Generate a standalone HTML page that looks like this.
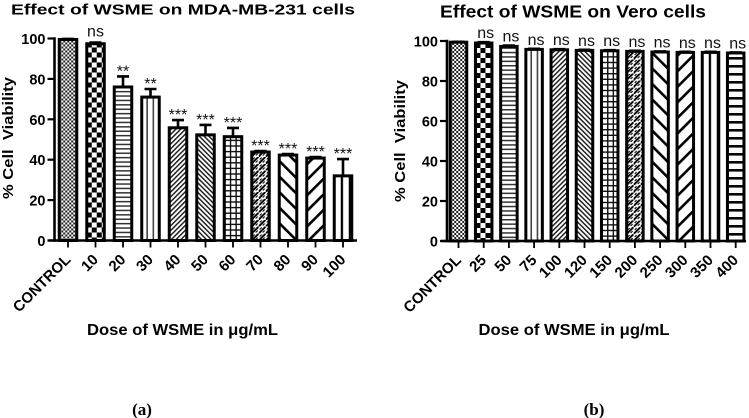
<!DOCTYPE html>
<html lang="en">
<head>
<meta charset="utf-8">
<title>Effect of WSME on cell viability</title>
<style>
html,body{margin:0;padding:0;background:#fff}
svg{display:block;font-family:"Liberation Sans",Arial,sans-serif}
</style>
</head>
<body>
<svg id="figure" xmlns="http://www.w3.org/2000/svg" width="749" height="418" viewBox="0 0 749 418">
<defs>
<pattern id="p0" patternUnits="userSpaceOnUse" width="4" height="4"><rect width="4" height="4" fill="#fff"/><rect width="2" height="2" fill="#222"/><rect x="2" y="2" width="2" height="2" fill="#222"/></pattern>
<pattern id="p1" patternUnits="userSpaceOnUse" width="10" height="10" y="2"><rect width="10" height="10" fill="#fff"/><rect width="5" height="5" fill="#000"/><rect x="5" y="5" width="5" height="5" fill="#000"/></pattern>
<pattern id="p2" patternUnits="userSpaceOnUse" width="4.4" height="4.4"><rect width="4.4" height="4.4" fill="#fff"/><rect width="4.4" height="1.5" fill="#333"/></pattern>
<pattern id="p3" patternUnits="userSpaceOnUse" width="6.2" height="6.2"><rect width="6.2" height="6.2" fill="#fff"/><rect x="4.6" width="1.6" height="6.2" fill="#444"/></pattern>
<pattern id="p4" patternUnits="userSpaceOnUse" width="3.4" height="3.4" patternTransform="rotate(45)"><rect width="3.4" height="3.4" fill="#fff"/><rect width="1.5" height="3.4" fill="#222"/></pattern>
<pattern id="p5" patternUnits="userSpaceOnUse" width="3.4" height="3.4" patternTransform="rotate(-45)"><rect width="3.4" height="3.4" fill="#fff"/><rect width="1.5" height="3.4" fill="#222"/></pattern>
<pattern id="p6" patternUnits="userSpaceOnUse" width="5.6" height="5.6"><rect width="5.6" height="5.6" fill="#fff"/><rect width="1.4" height="5.6" fill="#111"/><rect width="5.6" height="1.4" fill="#111"/></pattern>
<pattern id="p7" patternUnits="userSpaceOnUse" width="7" height="7"><rect width="7" height="7" fill="#fff"/><path d="M-1 8 L8 -1" stroke="#000" stroke-width="1.9"/><path d="M1 3 L3 1 M4 6 L6 4" stroke="#000" stroke-width="1.1"/></pattern>
<pattern id="p8" patternUnits="userSpaceOnUse" width="11" height="11" patternTransform="rotate(-45)"><rect width="11" height="11" fill="#fff"/><rect width="2.6" height="11" fill="#000"/></pattern>
<pattern id="p9" patternUnits="userSpaceOnUse" width="11" height="11" patternTransform="rotate(45)"><rect width="11" height="11" fill="#fff"/><rect width="2.6" height="11" fill="#000"/></pattern>
<pattern id="p10" patternUnits="userSpaceOnUse" width="8" height="8"><rect width="8" height="8" fill="#fff"/><rect x="6.5" width="1.5" height="8" fill="#000"/><rect width="0.8" height="8" fill="#000"/></pattern>
<pattern id="p11" patternUnits="userSpaceOnUse" width="8" height="8"><rect width="8" height="8" fill="#fff"/><rect width="8" height="2.6" fill="#000"/></pattern>
</defs>
</svg>
<script>
const categoriesA = ['CONTROL','10','20','30','40','50','60','70','80','90','100'];
const meansA = [99.5,97.4,76,71,55.8,52.3,51.4,43.8,42.3,40.8,32];
const errorsA = [0.3,0.6,5.2,4,3.8,4.9,4.3,0.5,0.5,0.5,8.3];
const sigA = ['','ns','**','**','***','***','***','***','***','***','***'];

const categoriesB = ['CONTROL','25','50','75','100','120','150','200','250','300','350','400'];
const meansB = [99.4,99,97.3,95.8,95.6,95.3,95.1,94.8,94.5,94.3,94.3,94];
const errorsB = [0.2,0.4,0.4,0.3,0.3,0.3,0.3,0.3,0.3,0.3,0.3,0.3];
const sigB = ['','ns','ns','ns','ns','ns','ns','ns','ns','ns','ns','ns'];

const yTicks = [0,20,40,60,80,100];

const NS = 'http://www.w3.org/2000/svg';
const svg = document.getElementById('figure');

function make(parent, tag, attrs, text) {
  const el = document.createElementNS(NS, tag);
  for (const k in attrs) el.setAttribute(k, attrs[k]);
  if (text !== undefined) el.textContent = text;
  parent.appendChild(el);
  return el;
}

function drawChart(cfg) {
  const yScale = v => cfg.y0 - (cfg.y0 - cfg.y100) * v / 100;
  const xScale = i => cfg.x0 + cfg.step * i;

  const chart = make(svg, 'g', {});
  
  

  const title = make(chart, 'text', {x: cfg.titleX, y: cfg.titleY, 'font-size': cfg.titleSize, 'font-weight': 'bold', textLength: cfg.titleLen, lengthAdjust: 'spacingAndGlyphs'}, cfg.title);
  
  

  cfg.means.forEach((m, i) => {
    const cx = xScale(i), top = yScale(m), errTop = yScale(m + cfg.errors[i]);
    const left = cx - cfg.barW / 2;

    const group = make(chart, 'g', {transform: 'translate(' + left + ',' + cfg.y0 + ')'});
    
    
    make(group, 'rect', {x: 0, y: top - cfg.y0, width: cfg.barW, height: cfg.y0 - top, fill: 'url(#p' + i + ')', stroke: '#000', 'stroke-width': 3});

    const err = make(chart, 'path', {d: 'M' + cx + ' ' + top + 'V' + errTop + 'M' + (cx - 6) + ' ' + errTop + 'H' + (cx + 6), stroke: '#000', 'stroke-width': 2.6, fill: 'none'});
    
    

    if (cfg.sig[i]) {
      const mark = make(chart, 'text', {x: cx + cfg.sigDx, y: errTop + cfg.sigDy(cfg.sig[i]), 'font-size': 16, 'text-anchor': 'middle', fill: '#111'}, cfg.sig[i]);
      
      
    }

    const tick = make(chart, 'line', {x1: cx, x2: cx, y1: cfg.y0, y2: cfg.y0 + 7, stroke: '#000', 'stroke-width': 1.8});
    
    

    const lx = cx + 3.5, ly = cfg.y0 + 20;
    const label = make(chart, 'text', {x: lx, y: ly, 'font-size': 15, 'font-weight': 'bold', 'text-anchor': 'end', transform: 'rotate(-45 ' + lx + ' ' + ly + ')'}, cfg.cats[i]);
    
    
  });

  const yAxis = make(chart, 'line', {x1: cfg.axisX, x2: cfg.axisX, y1: yScale(100) - 1.2, y2: cfg.y0 + 1.2, stroke: '#000', 'stroke-width': 2.6});
  
  
  const xAxis = make(chart, 'line', {x1: cfg.axisX - 6, x2: cfg.axisEnd, y1: cfg.y0, y2: cfg.y0, stroke: '#000', 'stroke-width': 2.6});
  
  

  yTicks.forEach(t => {
    const y = yScale(t);
    const tick = make(chart, 'line', {x1: cfg.axisX - 7, x2: cfg.axisX, y1: y, y2: y, stroke: '#000', 'stroke-width': 2.2});
    
    
    const label = make(chart, 'text', {x: cfg.axisX - 9, y: y + 5.5, 'font-size': 14.5, 'font-weight': 'bold', 'text-anchor': 'end'}, String(t));
    
    
  });

  const yTitle = make(chart, 'text', {x: 0, y: 0, 'font-size': 14.5, 'font-weight': 'bold', 'text-anchor': 'middle', textLength: 122, lengthAdjust: 'spacingAndGlyphs', style: 'white-space:pre', transform: 'translate(' + cfg.yTitleX + ',' + cfg.yTitleY + ') rotate(-90)'}, '% Cell  Viability');
  
  

  const xTitle = make(chart, 'text', {x: cfg.xTitleX, y: 335, 'font-size': 15.8, 'font-weight': 'bold', 'text-anchor': 'middle', textLength: 191, lengthAdjust: 'spacingAndGlyphs'}, 'Dose of WSME in μg/mL');
  
  

  const panel = make(chart, 'text', {x: cfg.panelX, y: 415, 'font-size': 17, 'font-weight': 'bold', 'text-anchor': 'middle', style: 'font-family:"Liberation Serif",serif'}, cfg.panel);
  
  
}

drawChart({
  name: 'chart-mda-mb-231', title: 'Effect of WSME on MDA-MB-231 cells',
  cats: categoriesA, means: meansA, errors: errorsA, sig: sigA,
  x0: 68, step: 27.5, barW: 17.5, y0: 240.5, y100: 38.5,
  axisX: 54.5, axisEnd: 357, titleX: 11, titleY: 14.5, titleLen: 344, titleSize: 15,
  sigDx: 0, sigDy: s => s === 'ns' ? -6 : 0,
  yTitleX: 13, yTitleY: 138, xTitleX: 182.5, panel: '(a)', panelX: 142
});

drawChart({
  name: 'chart-vero', title: 'Effect of WSME on Vero cells',
  cats: categoriesB, means: meansB, errors: errorsB, sig: sigB,
  x0: 458.5, step: 25.2, barW: 16.5, y0: 241, y100: 41,
  axisX: 447, axisEnd: 746, titleX: 440, titleY: 17.5, titleLen: 266, titleSize: 17.5,
  sigDx: 2, sigDy: () => -4,
  yTitleX: 405, yTitleY: 141, xTitleX: 574, panel: '(b)', panelX: 594
});
</script>
</body>
</html>
